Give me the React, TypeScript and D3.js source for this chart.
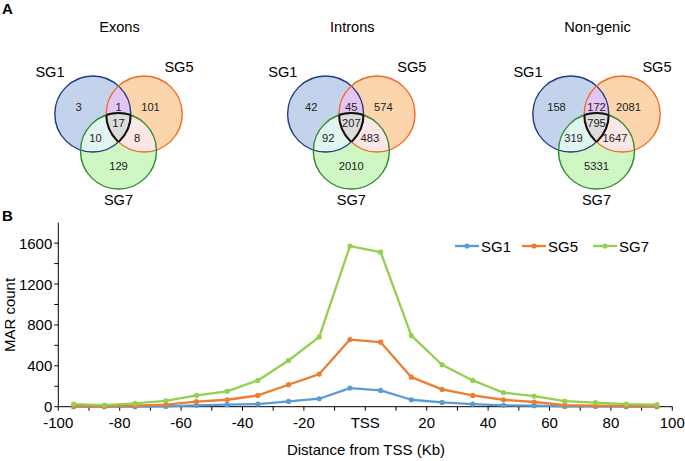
import React from "react";
import * as d3 from "d3";

const distances = [-95, -85, -75, -65, -55, -45, -35, -25, -15, -5, 5, 15, 25, 35, 45, 55, 65, 75, 85, 95];
const sg1Values = [0, 0, 0, 3, 13, 20, 26, 52, 78, 182, 159, 68, 42, 26, 13, 10, 3, 3, 0, 0];
const sg5Values = [7, 3, 10, 20, 49, 68, 110, 215, 319, 657, 631, 289, 169, 110, 68, 46, 16, 10, 7, 3];
const sg7Values = [26, 16, 32, 58, 110, 150, 257, 452, 683, 1571, 1512, 696, 410, 257, 137, 104, 55, 39, 26, 20];
const seriesNames = ["SG1", "SG5", "SG7"];
const seriesColors = ["#5b9bd5", "#ed7d31", "#92d050"];
const yTicks = [0, 400, 800, 1200, 1600];
const xTickLabels = ["-100", "-80", "-60", "-40", "-20", "TSS", "20", "40", "60", "80", "100"];
const xLabelValues = [-100, -80, -60, -40, -20, 0, 20, 40, 60, 80, 100];

const vennTitles = ["Exons", "Introns", "Non-genic"];
// order: SG1 only, SG1∩SG5, SG5 only, SG1∩SG7, all, SG5∩SG7, SG7 only
const exonCounts = [3, 1, 101, 10, 17, 8, 129];
const intronCounts = [42, 45, 574, 92, 207, 483, 2010];
const nongenicCounts = [158, 172, 2081, 319, 795, 1647, 5331];
const vennCounts = [exonCounts, intronCounts, nongenicCounts];

if (typeof document !== "undefined") document.body.style.margin = "0";

const FONT = "'Liberation Sans', Arial, Helvetica, sans-serif";

function Venn({ idx, cx, counts, title }: { idx: number; cx: number; counts: number[]; title: string }) {
  const r = 38;
  const dx = 25.7;
  const c1 = { x: cx - dx, y: 114 };
  const c5 = { x: cx + dx, y: 114 };
  const c7 = { x: cx, y: 151 };
  const id = (s: string) => `v${idx}${s}`;
  const offs = [
    [-40, 107], [0, 107], [32, 107], [-23, 138], [0, 122.5], [18.5, 138], [0, 166],
  ];
  return (
    <g>
      <defs>
        <clipPath id={id("c1")}><circle cx={c1.x} cy={c1.y} r={r} /></clipPath>
        <clipPath id={id("c5")}><circle cx={c5.x} cy={c5.y} r={r} /></clipPath>
        <clipPath id={id("c7")}><circle cx={c7.x} cy={c7.y} r={r} /></clipPath>
      </defs>
      <text x={cx + 1} y={32} textAnchor="middle" fontSize={14.6}>{title}</text>
      <text x={cx - 68.5} y={77} textAnchor="middle" fontSize={14.6}>SG1</text>
      <text x={cx + 60.5} y={72} textAnchor="middle" fontSize={14.6}>SG5</text>
      <text x={cx} y={205} textAnchor="middle" fontSize={14.6}>SG7</text>
      <circle cx={c1.x} cy={c1.y} r={r} fill="#c4d3ec" />
      <circle cx={c5.x} cy={c5.y} r={r} fill="#fcd5ad" />
      <circle cx={c7.x} cy={c7.y} r={r} fill="#cef7c3" />
      <g clipPath={`url(#${id("c1")})`}>
        <circle cx={c5.x} cy={c5.y} r={r} fill="#e3c6f3" />
        <circle cx={c7.x} cy={c7.y} r={r} fill="#e1f4ef" />
      </g>
      <g clipPath={`url(#${id("c5")})`}>
        <circle cx={c7.x} cy={c7.y} r={r} fill="#fde6e6" />
        <g clipPath={`url(#${id("c1")})`}>
          <circle cx={c7.x} cy={c7.y} r={r} fill="#dcdcdc" />
        </g>
      </g>
      <circle cx={c1.x} cy={c1.y} r={r} fill="none" stroke="#1f3b84" strokeWidth={1.4} />
      <circle cx={c5.x} cy={c5.y} r={r} fill="none" stroke="#f26a22" strokeWidth={1.4} />
      <circle cx={c7.x} cy={c7.y} r={r} fill="none" stroke="#2f8a2f" strokeWidth={1.4} />
      <g clipPath={`url(#${id("c5")})`}>
        <g clipPath={`url(#${id("c7")})`}>
          <circle cx={c1.x} cy={c1.y} r={r} fill="none" stroke="#111" strokeWidth={2} />
        </g>
      </g>
      <g clipPath={`url(#${id("c1")})`}>
        <g clipPath={`url(#${id("c7")})`}>
          <circle cx={c5.x} cy={c5.y} r={r} fill="none" stroke="#111" strokeWidth={2} />
        </g>
      </g>
      <g clipPath={`url(#${id("c1")})`}>
        <g clipPath={`url(#${id("c5")})`}>
          <circle cx={c7.x} cy={c7.y} r={r} fill="none" stroke="#111" strokeWidth={2} />
        </g>
      </g>
      {counts.map((v, i) => (
        <text key={i} x={cx + offs[i][0]} y={offs[i][1]} textAnchor="middle" dominantBaseline="central" fontSize={11.2} fill="#222">
          {v}
        </text>
      ))}
    </g>
  );
}

export default function App() {
  const W = 685, H = 461;
  const x = d3.scaleLinear().domain([-100, 100]).range([58.3, 672.3]);
  const y = d3.scaleLinear().domain([0, 1800]).range([406.7, 222.7]);
  const allSeries = [sg1Values, sg5Values, sg7Values];
  const line = d3.line<number>().x((_, i) => x(distances[i])).y((d) => y(d));
  const minorTicks = d3.range(-100, 101, 10);
  const yMinorTicks = d3.range(0, 1601, 200);
  const vennCx = [118.5, 351.3, 596.5];
  const legendX = [455, 522, 593];

  return (
    <svg width={W} height={H} style={{ display: "block", fontFamily: FONT }}>
      <rect width={W} height={H} fill="#fff" />
      <text x={2} y={14} fontSize={15} fontWeight="bold">A</text>
      {vennTitles.map((t, i) => (
        <Venn key={t} idx={i} cx={vennCx[i]} counts={vennCounts[i]} title={t} />
      ))}
      <text x={2} y={221} fontSize={15} fontWeight="bold">B</text>

      {/* axes */}
      <line x1={x(-100)} x2={x(100)} y1={y(0)} y2={y(0)} stroke="#000" strokeWidth={1} />
      <line x1={x(-100)} x2={x(-100)} y1={y(0)} y2={y(1800)} stroke="#000" strokeWidth={1} />
      {minorTicks.map((t) => (
        <line key={t} x1={x(t)} x2={x(t)} y1={y(0)} y2={y(0) + 4} stroke="#000" />
      ))}
      {yMinorTicks.map((t) => (
        <line key={t} x1={x(-100) - 4} x2={x(-100)} y1={y(t)} y2={y(t)} stroke="#000" />
      ))}
      {yTicks.map((t) => (
        <text key={t} x={x(-100) - 6} y={y(t)} textAnchor="end" dominantBaseline="central" fontSize={15}>{t}</text>
      ))}
      {xLabelValues.map((v, i) => (
        <text key={v} x={x(v)} y={428} textAnchor="middle" fontSize={15}>{xTickLabels[i]}</text>
      ))}
      <text transform={`translate(15,315) rotate(-90)`} textAnchor="middle" fontSize={15}>MAR count</text>
      <text x={366} y={455} textAnchor="middle" fontSize={15}>Distance from TSS (Kb)</text>

      {/* series */}
      {allSeries.map((vals, si) => (
        <g key={si}>
          <path d={line(vals) || ""} fill="none" stroke={seriesColors[si]} strokeWidth={2.3} strokeLinejoin="round" />
          {vals.map((v, i) => (
            <circle key={i} cx={x(distances[i])} cy={y(v)} r={2.6} fill={seriesColors[si]} />
          ))}
        </g>
      ))}

      {/* legend */}
      {seriesNames.map((n, i) => (
        <g key={n}>
          <line x1={legendX[i]} x2={legendX[i] + 24} y1={246} y2={246} stroke={seriesColors[i]} strokeWidth={2.3} />
          <circle cx={legendX[i] + 12} cy={246} r={2.6} fill={seriesColors[i]} />
          <text x={legendX[i] + 26} y={246} dominantBaseline="central" fontSize={15}>{n}</text>
        </g>
      ))}
    </svg>
  );
}
